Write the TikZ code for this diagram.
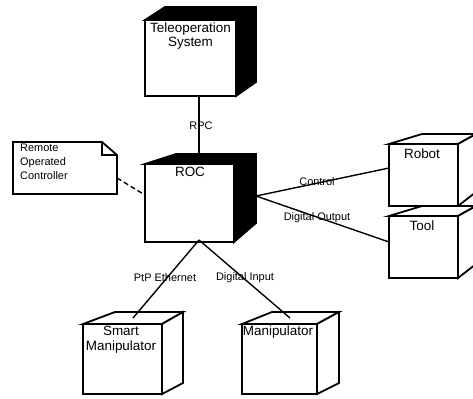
\documentclass[tikz,border=0pt]{standalone}
\usepackage{fontspec}
\setmainfont{Liberation Sans}
\begin{document}
\begin{tikzpicture}[x=1bp,y=-1bp,
  face/.style={draw,fill=white,line width=1.8bp,anchor=north west,inner sep=0pt,outer sep=0pt},
  side/.style={draw,line width=1.8bp,line join=miter},
  solid side/.style={side,fill=black},
  open side/.style={side,fill=white},
  ntext/.style={font=\fontsize{13.5}{15}\selectfont,inner sep=0pt,align=center},
  lab/.style={font=\fontsize{11}{13}\selectfont,inner sep=0pt},
  conn/.style={line width=1.4bp},
  notebox/.style={draw,fill=white,line width=1.8bp,line join=miter}]
\useasboundingbox (0,0) rectangle (473,398);
\clip (0,0) rectangle (473,398);

% Teleoperation System
\filldraw[solid side] (145,20) -- (165,7) -- (256,7) -- (256,82) -- (236,96) -- (236,20) -- cycle;
\node[face,minimum width=91bp,minimum height=76bp] (tele) at (145,20) {};
\node[ntext] (telet) at (190.5,36) {Teleoperation\\System};

% ROC
\filldraw[solid side] (145,164) -- (176,154) -- (256,154) -- (256,223) -- (234,242) -- (234,164) -- cycle;
\node[face,minimum width=89bp,minimum height=78bp] (roc) at (145,164) {};
\node[ntext] (roct) at (190,172) {ROC};

% Robot
\filldraw[open side] (389,144) -- (422,134) -- (476,134) -- (458,144) -- cycle;
\filldraw[open side] (458,144) -- (476,134) -- (476,192) -- (458,206) -- cycle;
\node[face,minimum width=69bp,minimum height=62bp] (robot) at (389,144) {};
\node[ntext] (robott) at (422,154) {Robot};

% Tool
\filldraw[open side] (389,216) -- (422,206) -- (476,206) -- (458,216) -- cycle;
\filldraw[open side] (458,216) -- (476,206) -- (476,264) -- (458,278) -- cycle;
\node[face,minimum width=69bp,minimum height=62bp] (tool) at (389,216) {};
\node[ntext] (toolt) at (422,226) {Tool};

% Smart Manipulator
\filldraw[open side] (83,324) -- (115,312) -- (183,312) -- (162,324) -- cycle;
\filldraw[open side] (162,324) -- (183,312) -- (183,383) -- (162,394) -- cycle;
\node[face,minimum width=79bp,minimum height=70bp] (smart) at (83,324) {};
\node[ntext] (smartt) at (121,340) {Smart\\Manipulator};

% Manipulator
\filldraw[open side] (242,324) -- (272,312) -- (339,312) -- (317,324) -- cycle;
\filldraw[open side] (317,324) -- (339,312) -- (339,383) -- (317,394) -- cycle;
\node[face,minimum width=75bp,minimum height=70bp] (manip) at (242,324) {};
\node[ntext] (manipt) at (278,332) {Manipulator};

% Note
\filldraw[notebox] (13,142) -- (102,142) -- (117,155) -- (117,194) -- (13,194) -- cycle;
\draw[notebox,fill=none] (102,142) -- (102,155) -- (117,155);
\node[lab,anchor=north west,align=left,font=\fontsize{11}{14}\selectfont] (notet) at (20,144) {Remote\\Operated\\Controller};
\coordinate (noteend) at (117,178);

% attachment points
\coordinate (teleB) at (199,96);
\coordinate (rocT) at (199,154);
\coordinate (rocR) at (256,196);
\coordinate (rocB) at (199,240);
\coordinate (rocL) at (145,195);
\coordinate (robotL) at (389,168);
\coordinate (toolL) at (389,242);
\coordinate (smartT) at (133,318);
\coordinate (manipT) at (290,318);

% connectors
\draw[conn] (teleB) -- (rocT);
\draw[conn] (rocR) -- (robotL);
\draw[conn] (rocR) -- (toolL);
\draw[conn] (rocB) -- (smartT);
\draw[conn] (rocB) -- (manipT);
\draw[conn,dash pattern=on 5bp off 3bp] (noteend) -- (rocL);

% labels
\node[lab] (lrpc) at (201,126) {RPC};
\node[lab] (lctl) at (317,182) {Control};
\node[lab] (ldo) at (317,218) {Digital Output};
\node[lab] (lptp) at (165,278) {PtP Ethernet};
\node[lab] (ldi) at (245,278) {Digital Input};
\end{tikzpicture}
\end{document}
